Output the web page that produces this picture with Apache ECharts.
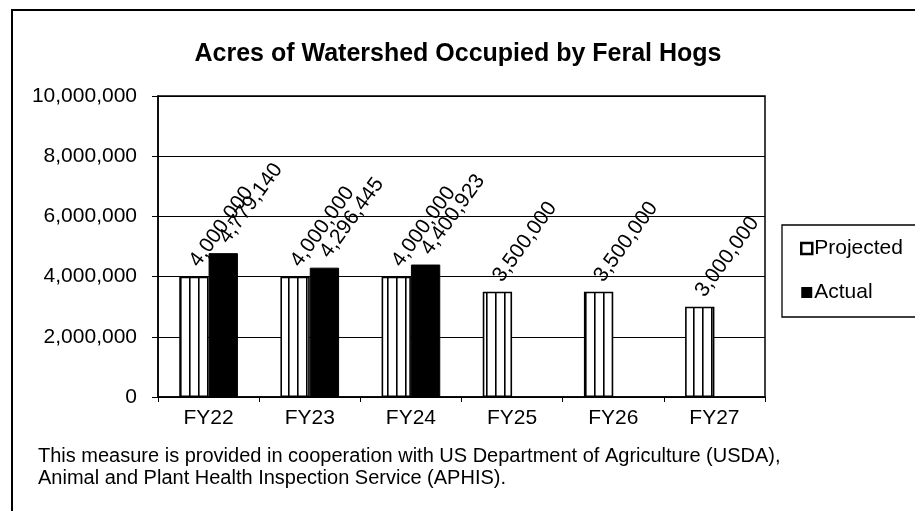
<!DOCTYPE html>
<html lang="en">
<head>
    <meta charset="UTF-8">
    <title>Acres of Watershed Occupied by Feral Hogs</title>
    <style>
        html, body { margin: 0; padding: 0; background: #fff; }
        div#main { width: 915px; height: 511px; }
    </style>
</head>
<body>
    <div id="main"></div>
    <script src="https://cdn.jsdelivr.net/npm/echarts@6/dist/echarts.min.js"></script>
    <script>
        // values
        const years = ["FY22", "FY23", "FY24", "FY25", "FY26", "FY27"];
        const projected = [4000000, 4000000, 4000000, 3500000, 3500000, 3000000];
        const actual = [4779140, 4296445, 4400923, null, null, null];
        const yTicks = [0, 2000000, 4000000, 6000000, 8000000, 10000000];
        const footnote = "This measure is provided in cooperation with US Department of Agriculture (USDA),\nAnimal and Plant Health Inspection Service (APHIS).";

        const font = "'Liberation Sans', Arial, sans-serif";
        const fmt = v => Number(v).toLocaleString("en-US");

        // vertical stripe fill for the projected bars
        const stripes = document.createElement("canvas");
        stripes.width = 9;
        stripes.height = 10;
        const ctx = stripes.getContext("2d");
        ctx.fillStyle = "#fff";
        ctx.fillRect(0, 0, 9, 10);
        ctx.fillStyle = "#000";
        ctx.fillRect(0, 0, 1.6, 10);

        const label = {
            show: true,
            position: "top",
            distance: 12,
            rotate: 54,
            align: "left",
            verticalAlign: "middle",
            color: "#000",
            fontFamily: font,
            fontSize: 21,
            formatter: p => fmt(p.value)
        };

        const myChart = echarts.init(document.getElementById("main"), null, { renderer: "canvas" });

        const option = {
            backgroundColor: "#fff",
            animation: false,
            title: {
                text: "Acres of Watershed Occupied by Feral Hogs",
                left: 453,
                textAlign: "center",
                top: 37,
                textStyle: { fontFamily: font, fontSize: 25, fontWeight: "bold", color: "#000" }
            },
            legend: {
                orient: "vertical",
                left: 795,
                top: 233,
                itemWidth: 11,
                itemHeight: 11,
                itemGap: 23,
                icon: "rect",
                textStyle: { fontFamily: font, fontSize: 21, color: "#000", padding: [0, 0, 0, -3] },
                data: [
                    { name: "Projected", itemStyle: { color: "#fff", borderColor: "#000", borderWidth: 2.5 } },
                    { name: "Actual", itemStyle: { color: "#000", borderWidth: 0 } }
                ]
            },
            grid: {
                left: 158,
                right: 150,
                top: 96,
                bottom: 114,
                show: true,
                borderColor: "#000",
                borderWidth: 1.5
            },
            xAxis: {
                type: "category",
                data: years,
                axisLine: { lineStyle: { color: "#000", width: 1.5 } },
                axisTick: { show: true, length: 5, lineStyle: { color: "#000" } },
                axisLabel: { color: "#000", fontFamily: font, fontSize: 21, margin: 11 }
            },
            yAxis: {
                type: "value",
                min: yTicks[0],
                max: yTicks[yTicks.length - 1],
                interval: yTicks[1] - yTicks[0],
                axisLine: { show: true, lineStyle: { color: "#000", width: 1.5 } },
                axisTick: { show: true, length: 6, lineStyle: { color: "#000" } },
                splitLine: { lineStyle: { color: "#000", width: 1.2 } },
                axisLabel: { color: "#000", fontFamily: font, fontSize: 21, margin: 21, formatter: fmt }
            },
            series: [
                {
                    name: "Projected",
                    type: "bar",
                    data: projected,
                    barGap: "0%",
                    barCategoryGap: "42%",
                    itemStyle: {
                        color: { image: stripes, repeat: "repeat" },
                        borderColor: "#000",
                        borderWidth: 1.6
                    },
                    label: label
                },
                {
                    name: "Actual",
                    type: "bar",
                    data: actual,
                    itemStyle: { color: "#000", borderColor: "#000", borderWidth: 1 },
                    label: label
                }
            ],
            graphic: [
                // outer chart border (runs off the right and bottom edges)
                {
                    type: "rect",
                    shape: { x: 12, y: 10, width: 960, height: 560 },
                    style: { fill: null, stroke: "#000", lineWidth: 2 },
                    silent: true
                },
                // legend box
                {
                    type: "rect",
                    shape: { x: 782, y: 225, width: 200, height: 92 },
                    style: { fill: null, stroke: "#000", lineWidth: 1.3 },
                    silent: true
                },
                {
                    type: "text",
                    left: 38,
                    top: 445,
                    style: {
                        text: footnote,
                        fill: "#000",
                        font: "20px " + font,
                        lineHeight: 22
                    }
                }
            ]
        };

        myChart.setOption(option);
    </script>
</body>
</html>
